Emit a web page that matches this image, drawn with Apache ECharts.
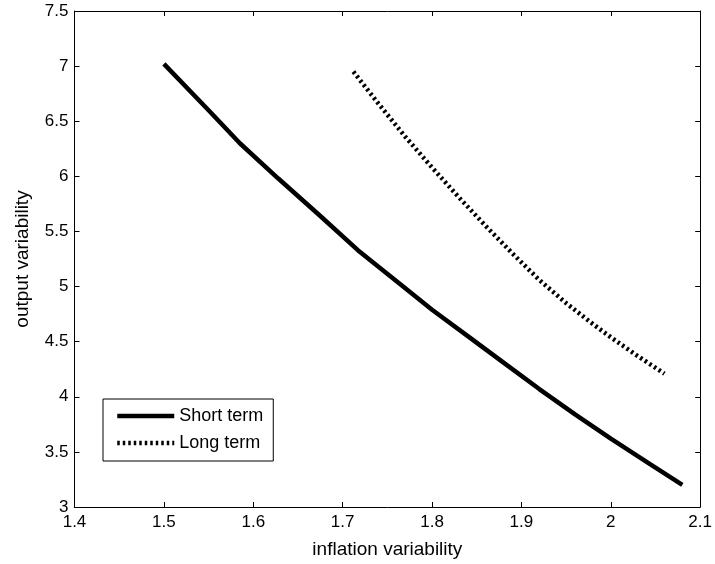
<!DOCTYPE html>
<html>
<head>
<meta charset="utf-8">
<script src="https://cdn.jsdelivr.net/npm/echarts@6/dist/echarts.min.js"></script>
<style>
html,body{margin:0;padding:0;background:#fff;}
#chart{width:715px;height:564px;}
</style>
</head>
<body>
<div id="chart"></div>
<script>
// Data
var shortX = [1.500, 1.550, 1.585, 1.628, 1.675, 1.717, 1.760, 1.800, 1.840, 1.880, 1.920, 1.960, 2.000, 2.040, 2.080];
var shortY = [7.02, 6.60, 6.30, 5.98, 5.64, 5.33, 5.05, 4.79, 4.55, 4.31, 4.07, 3.84, 3.62, 3.41, 3.20];
var longX = [1.712, 1.740, 1.770, 1.800, 1.830, 1.860, 1.890, 1.920, 1.950, 1.980, 2.000, 2.030, 2.060];
var longY = [6.95, 6.66, 6.36, 6.08, 5.81, 5.55, 5.30, 5.06, 4.85, 4.66, 4.54, 4.37, 4.21];
var seriesNames = ['Short term', 'Long term'];
var xTicks = [1.4, 1.5, 1.6, 1.7, 1.8, 1.9, 2, 2.1];
var yTicks = [3, 3.5, 4, 4.5, 5, 5.5, 6, 6.5, 7, 7.5];
var xLabel = 'inflation variability';
var yLabel = 'output variability';

function pairs(xs, ys) { return xs.map(function (x, i) { return [x, ys[i]]; }); }

var FONT = '"Liberation Sans", Arial, sans-serif';
var DOTS = [2.5, 3];
var tickCommon = { show: true, inside: true, length: 5, lineStyle: { color: '#000', width: 1 } };
var lineCommon = { show: true, onZero: false, lineStyle: { color: '#000', width: 1 } };

var chart = echarts.init(document.getElementById('chart'), null, { renderer: 'canvas' });
chart.setOption({
  backgroundColor: '#fff',
  animation: false,
  textStyle: { fontFamily: FONT },
  grid: { left: 74.5, right: 13.5, top: 11, bottom: 57, containLabel: false },
  legend: {
    orient: 'vertical',
    left: 103, top: 399,
    padding: [8, 10, 9, 12],
    itemGap: 9,
    itemWidth: 57, itemHeight: 14,
    borderColor: '#000', borderWidth: 1, borderRadius: 0,
    backgroundColor: '#fff',
    itemStyle: { color: 'rgba(0,0,0,0)', borderWidth: 0, opacity: 0 },
    lineStyle: { width: 4.5, color: '#000' },
    textStyle: { fontFamily: FONT, fontSize: 18, color: '#000' },
    data: [
      { name: seriesNames[0], lineStyle: { width: 4.5, type: 'solid', color: '#000' } },
      { name: seriesNames[1], lineStyle: { width: 4.5, type: DOTS, color: '#000' } }
    ]
  },
  xAxis: [{
    type: 'value', min: xTicks[0], max: xTicks[xTicks.length - 1], interval: 0.1,
    position: 'bottom',
    axisLine: lineCommon, axisTick: tickCommon, splitLine: { show: false },
    axisLabel: { color: '#000', fontSize: 17, fontFamily: FONT, margin: 7,
      formatter: function (v) { return String(+v.toFixed(1)); } },
    name: xLabel, nameLocation: 'middle', nameGap: 33,
    nameTextStyle: { color: '#000', fontSize: 19, fontFamily: FONT }
  }, {
    type: 'value', min: xTicks[0], max: xTicks[xTicks.length - 1], interval: 0.1,
    position: 'top',
    axisLine: lineCommon, axisTick: tickCommon, splitLine: { show: false },
    axisLabel: { show: false }
  }],
  yAxis: [{
    type: 'value', min: yTicks[0], max: yTicks[yTicks.length - 1], interval: 0.5,
    position: 'left',
    axisLine: lineCommon, axisTick: tickCommon, splitLine: { show: false },
    axisLabel: { color: '#000', fontSize: 17, fontFamily: FONT, margin: 6,
      formatter: function (v) { return String(+v.toFixed(1)); } },
    name: yLabel, nameLocation: 'middle', nameGap: 42,
    nameTextStyle: { color: '#000', fontSize: 19, fontFamily: FONT }
  }, {
    type: 'value', min: yTicks[0], max: yTicks[yTicks.length - 1], interval: 0.5,
    position: 'right',
    axisLine: lineCommon, axisTick: tickCommon, splitLine: { show: false },
    axisLabel: { show: false }
  }],
  series: [{
    name: seriesNames[0], type: 'line', xAxisIndex: 0, yAxisIndex: 0,
    data: pairs(shortX, shortY), symbol: 'none', smooth: false,
    lineStyle: { color: '#000', width: 4.5, type: 'solid', cap: 'butt' },
    itemStyle: { color: '#000' }
  }, {
    name: seriesNames[1], type: 'line', xAxisIndex: 0, yAxisIndex: 0,
    data: pairs(longX, longY), symbol: 'none', smooth: false,
    lineStyle: { color: '#000', width: 4.5, type: DOTS, cap: 'butt' },
    itemStyle: { color: '#000' }
  }]
});
</script>
</body>
</html>
